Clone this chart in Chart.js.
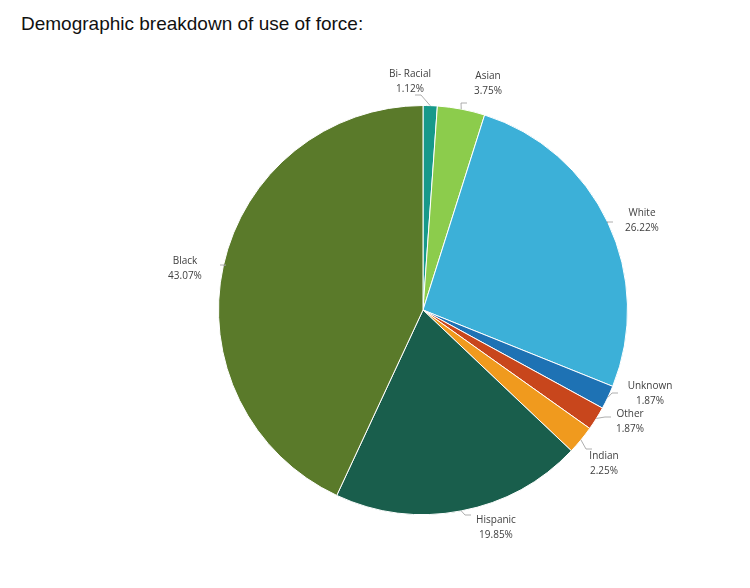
<!DOCTYPE html>
<html><head><meta charset="utf-8">
<script src="https://cdn.jsdelivr.net/npm/chart.js@4"></script>
<style>
body{margin:0;background:#fff;}
#wrap{position:relative;width:750px;height:588px;}
#title{position:absolute;left:21px;top:13px;font-family:"Liberation Sans",Arial,sans-serif;font-size:19px;color:#111;}
canvas{position:absolute;left:0;top:0;}
</style></head><body>
<div id="wrap"><div id="title">Demographic breakdown of use of force:</div><canvas id="c" width="750" height="588"></canvas></div>
<script>
const categories=["Bi- Racial","Asian","White","Unknown","Other","Indian","Hispanic","Black"];
const values=[1.12,3.75,26.22,1.87,1.87,2.25,19.85,43.07];
const colors=["#17998a","#8ccc4c","#3cb0d8","#1e72b4","#c8461c","#f09a1e","#195e4c","#5a7a2a"];
// label text anchor (center x, top y) and leader end point
const labelPos=[[410,69,421,95],[488,71,461,103],[642,208,607,222],[650,381,612,393],[630,409,605,417],[604,451,586,449],[496,515,465,515],[185,256,226,265]];
const labelPlugin={id:'lbl',afterDatasetsDraw(chart){
  const ctx=chart.ctx,meta=chart.getDatasetMeta(0);
  ctx.save();ctx.font='10px "Open Sans","Liberation Sans",sans-serif';ctx.fillStyle='#404040';ctx.strokeStyle='#999';ctx.lineWidth=0.8;ctx.textAlign='center';ctx.textBaseline='top';
  meta.data.forEach((a,i)=>{
    const m=(a.startAngle+a.endAngle)/2,r=a.outerRadius;
    const sx=a.x+Math.cos(m)*r,sy=a.y+Math.sin(m)*r;
    const p=labelPos[i];
    ctx.beginPath();ctx.moveTo(sx,sy);ctx.lineTo(p[2],p[3]);
    ctx.lineTo(p[2]+(p[0]<sx?(p[0]>p[2]?6:-6):(p[0]>p[2]?6:-6)),p[3]);ctx.stroke();
    ctx.fillText(categories[i],p[0],p[1]);
    ctx.fillText(values[i].toFixed(2)+'%',p[0],p[1]+15);
  });ctx.restore();}};
new Chart(document.getElementById('c'),{type:'pie',
 data:{labels:categories,datasets:[{data:values,backgroundColor:colors,borderColor:'#fff',borderWidth:1}]},
 options:{responsive:false,animation:false,layout:{padding:{left:218,right:122,top:105,bottom:73}},
  plugins:{legend:{display:false},tooltip:{enabled:false}}},
 plugins:[labelPlugin]});
</script></body></html>
